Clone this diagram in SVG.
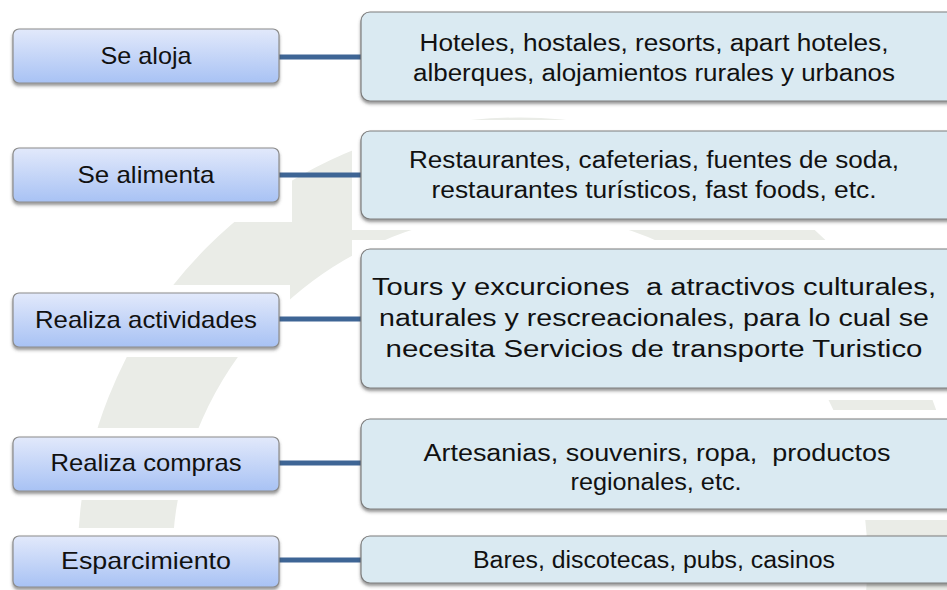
<svg xmlns="http://www.w3.org/2000/svg" width="947" height="590" viewBox="0 0 947 590">
  <defs>
    <linearGradient id="gLeft" x1="0" y1="0" x2="0" y2="1">
      <stop offset="0" stop-color="#e2e9fb"/>
      <stop offset="1" stop-color="#a8c2f4"/>
    </linearGradient>
    <filter id="sh" x="-5%" y="-10%" width="110%" height="130%">
      <feDropShadow dx="0" dy="2.5" stdDeviation="1.6" flood-color="#404040" flood-opacity="0.55"/>
    </filter>
    <style>
      .lbox { fill: url(#gLeft); stroke: #8c8c8c; stroke-width: 1.2; filter: url(#sh); }
      .rbox { fill: #daeaf2; stroke: #7d7d7d; stroke-width: 1.2; filter: url(#sh); }
      .lt { font-family: "Liberation Sans", Arial, sans-serif; font-size: 24px; fill: #111; text-anchor: middle; }
      .rt { font-family: "Liberation Sans", Arial, sans-serif; font-size: 23px; fill: #111; text-anchor: middle; }
      .con { stroke: #3e6595; stroke-width: 5; fill: none; }
      .wm { fill: none; stroke: #eaece7; }
    </style>
  </defs>
  <rect width="947" height="590" fill="#ffffff"/>
  <g id="watermark">
    <circle class="wm" cx="520" cy="560" r="395" stroke-width="95"/>
    <rect x="0" y="140" width="292" height="82" fill="#ffffff"/>
    <rect x="0" y="285" width="290" height="72" fill="#ffffff"/>
    <rect x="0" y="428" width="290" height="72" fill="#ffffff"/>
    <rect x="0" y="528" width="290" height="62" fill="#ffffff"/>
    <rect x="352" y="120" width="595" height="110" fill="#ffffff"/>
    <rect x="352" y="240" width="595" height="160" fill="#ffffff"/>
    <rect x="352" y="410" width="595" height="110" fill="#ffffff"/>
  </g>
  <g id="connectors">
    <line class="con" x1="279" y1="57" x2="362" y2="57"/>
    <line class="con" x1="279" y1="175" x2="362" y2="175"/>
    <line class="con" x1="279" y1="319" x2="362" y2="319"/>
    <line class="con" x1="279" y1="463" x2="362" y2="463"/>
    <line class="con" x1="279" y1="560" x2="362" y2="560"/>
  </g>
  <g id="n-se-aloja">
    <rect class="lbox" x="13" y="29" width="266" height="54" rx="6"/>
    <text class="lt" x="146" y="64" textLength="91" lengthAdjust="spacingAndGlyphs">Se aloja</text>
  </g>
  <g id="n-se-alimenta">
    <rect class="lbox" x="13" y="148" width="266" height="54" rx="6"/>
    <text class="lt" x="146" y="183" textLength="137" lengthAdjust="spacingAndGlyphs">Se alimenta</text>
  </g>
  <g id="n-realiza-actividades">
    <rect class="lbox" x="13" y="293" width="266" height="54" rx="6"/>
    <text class="lt" x="146" y="328" textLength="222" lengthAdjust="spacingAndGlyphs">Realiza actividades</text>
  </g>
  <g id="n-realiza-compras">
    <rect class="lbox" x="13" y="437" width="266" height="54" rx="6"/>
    <text class="lt" x="146" y="471" textLength="191" lengthAdjust="spacingAndGlyphs">Realiza compras</text>
  </g>
  <g id="n-esparcimiento">
    <rect class="lbox" x="13" y="536" width="266" height="51" rx="6"/>
    <text class="lt" x="146" y="569" textLength="170" lengthAdjust="spacingAndGlyphs">Esparcimiento</text>
  </g>
  <g id="n-alojamiento">
    <rect class="rbox" x="361" y="12" width="620" height="89" rx="9"/>
    <text class="rt" x="654" y="51" textLength="469" lengthAdjust="spacingAndGlyphs">Hoteles, hostales, resorts, apart hoteles,</text>
    <text class="rt" x="654" y="81" textLength="482" lengthAdjust="spacingAndGlyphs">alberques, alojamientos rurales y urbanos</text>
  </g>
  <g id="n-alimentos">
    <rect class="rbox" x="361" y="131" width="620" height="88" rx="9"/>
    <text class="rt" x="654" y="168" textLength="490" lengthAdjust="spacingAndGlyphs">Restaurantes, cafeterias, fuentes de soda,</text>
    <text class="rt" x="654" y="198" textLength="445" lengthAdjust="spacingAndGlyphs">restaurantes turísticos, fast foods, etc.</text>
  </g>
  <g id="n-actividades">
    <rect class="rbox" x="361" y="249" width="620" height="139" rx="9"/>
    <text class="rt" x="654" y="295" textLength="564" lengthAdjust="spacingAndGlyphs" xml:space="preserve">Tours y excurciones  a atractivos culturales,</text>
    <text class="rt" x="654" y="326" textLength="550" lengthAdjust="spacingAndGlyphs">naturales y rescreacionales, para lo cual se</text>
    <text class="rt" x="654" y="357" textLength="537" lengthAdjust="spacingAndGlyphs">necesita Servicios de transporte Turistico</text>
  </g>
  <g id="n-compras">
    <rect class="rbox" x="361" y="419" width="620" height="90" rx="9"/>
    <text class="rt" x="657" y="461" textLength="467" lengthAdjust="spacingAndGlyphs" xml:space="preserve">Artesanias, souvenirs, ropa,  productos</text>
    <text class="rt" x="656" y="490" textLength="171" lengthAdjust="spacingAndGlyphs">regionales, etc.</text>
  </g>
  <g id="n-esparcimiento-detalle">
    <rect class="rbox" x="361" y="536" width="620" height="47" rx="9"/>
    <text class="rt" x="654" y="568" textLength="362" lengthAdjust="spacingAndGlyphs">Bares, discotecas, pubs, casinos</text>
  </g>
</svg>
